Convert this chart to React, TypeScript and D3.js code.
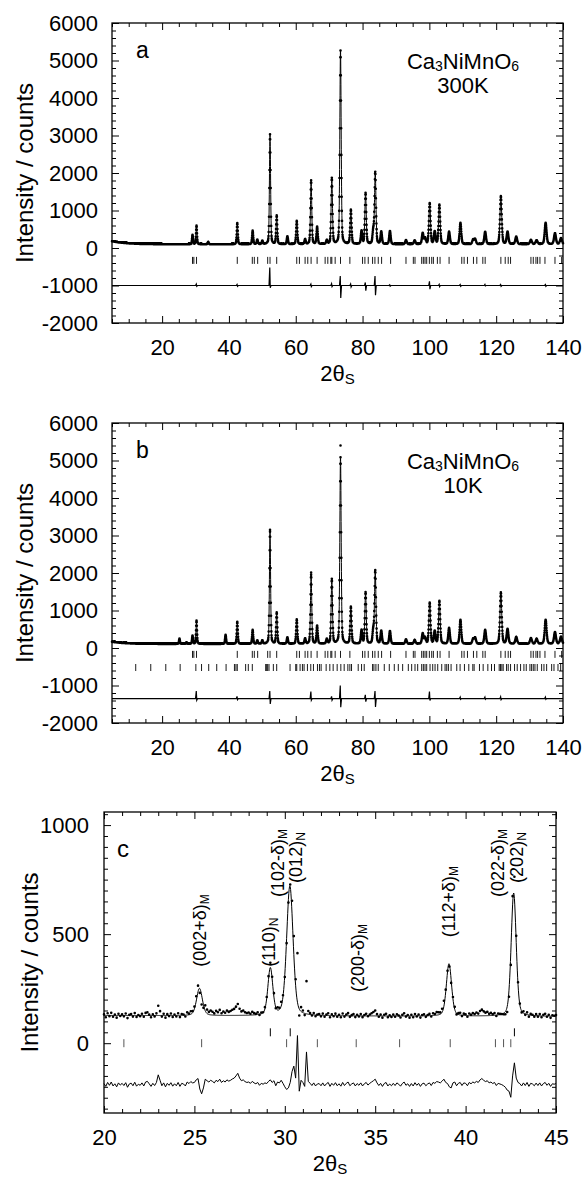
import React, { useEffect, useMemo, useRef } from "react";
import * as d3 from "d3";

const FONT = "'Liberation Sans', Arial, Helvetica, sans-serif";

// ---------------- data ----------------
// axis ticks
const abXMajor = [20, 40, 60, 80, 100, 120, 140];
const abYMajor = [-2000, -1000, 0, 1000, 2000, 3000, 4000, 5000, 6000];
const cXMajor = [20, 25, 30, 35, 40, 45];
const cYMajor = [0, 500, 1000];

// background level [2θ, counts]
const bgA: [number, number][] = [[5, 180], [7, 150], [10, 125], [14, 108], [22, 100], [140, 100]];
const bgB: [number, number][] = [[5, 165], [8, 135], [12, 118], [20, 110], [140, 108]];
const bgC: [number, number][] = [[20, 127], [45, 123]];

// peaks [2θ, top counts]
const peaksA: [number, number][] = [
  [29.1, 350], [30.3, 600], [33.8, 160], [42.5, 665], [47.1, 460], [48.5, 220], [50.0, 190],
  [52.3, 3030], [54.3, 860], [57.5, 310], [60.3, 720], [62.8, 230], [64.6, 1800], [66.4, 560],
  [69.3, 200], [70.8, 1860], [73.4, 5260], [76.5, 1010], [79.7, 450], [80.9, 1460], [83.2, 440],
  [83.8, 2010], [85.6, 430], [88.2, 450], [93.0, 210], [95.6, 200], [98.0, 390], [98.7, 260],
  [100.1, 1190], [101.6, 430], [103.0, 1150], [105.9, 430], [109.3, 670], [113.1, 220], [113.7, 230],
  [116.7, 430], [121.4, 1380], [123.4, 430], [126.0, 300], [130.4, 210], [132.1, 200], [134.8, 670],
  [137.6, 390], [139.4, 260],
];
const peaksB: [number, number][] = [
  [25.2, 250], [27.3, 150], [29.1, 330], [30.3, 730], [39.0, 350], [42.5, 700], [47.1, 480],
  [48.5, 200], [50.0, 200], [52.3, 3100], [54.3, 940], [57.5, 280], [60.3, 760], [62.8, 250],
  [64.6, 1950], [66.4, 590], [69.3, 230], [70.8, 1830], [73.4, 5080], [76.5, 1090], [79.7, 470],
  [80.9, 1480], [83.2, 450], [83.8, 2050], [85.6, 450], [88.2, 450], [93.0, 230], [95.6, 210],
  [98.0, 380], [98.7, 270], [100.1, 1200], [101.6, 440], [103.0, 1250], [105.9, 530], [109.3, 750],
  [113.1, 240], [113.7, 270], [116.7, 480], [121.4, 1480], [123.4, 500], [126.0, 290], [130.4, 260],
  [132.1, 240], [134.8, 750], [137.6, 420], [139.4, 300],
];
const obsOutliersB: [number, number][] = [[52.3, 3150], [64.6, 2010], [73.4, 5400]];

// panel c peaks [2θ, height above background, fwhm]
const peaksC: [number, number, number][] = [
  [25.28, 125, 0.38], [29.2, 215, 0.32], [30.28, 595, 0.42], [39.08, 240, 0.34], [42.66, 565, 0.33],
];
// panel c obs - calc, 20.0 .. 45.0 step 0.1
const residC: number[] = [
  5, -8, 10, -3, 12, -6, 4, -10, 8, -2,
  6, -4, 9, -12, 3, 7, -5, 11, -7, 2,
  -3, 8, -6, 12, 15, 4, -8, 6, -4, 10,
  45, 20, -5, 8, -10, 6, -3, 9, -7, 4,
  -5, 10, -8, 6, 3, -6, 12, 5, 14, 8,
  10, 22, 28, -20, -42, -15, 25, 18, 12, 20,
  15, 8, 20, 14, 25, 10, 18, 12, 22, 16,
  20, 26, 30, 40, 52, 30, 18, 22, 14, 10,
  12, 6, 15, 8, 4, 10, -3, 6, 2, 8,
  5, 15, 22, 10, 18, -5, 12, 8, 20, 6,
  -10, -22, -15, 10, 60, 85, 30, 225, -30, 20,
  10, -8, 150, 15, 6, -4, 8, -6, 3, 5,
  -5, 8, -6, 4, 10, -8, 6, -3, 9, -5,
  4, -7, 10, -4, 6, 12, -5, 3, 8, -6,
  5, -3, 8, -6, 4, 10, -2, 6, 12, 18,
  25, 8, -4, 6, -8, 5, 10, -6, 3, -5,
  6, -4, 8, 2, -7, 5, 12, -3, 4, -8,
  5, -6, 9, -3, 6, -8, 4, 7, -5, 3,
  8, -4, 10, 6, 14, 12, 8, 16, 25, 10,
  5, -10, -15, 8, 12, -5, 6, 10, -4, 8,
  6, -5, 10, 4, 12, 8, 15, 10, 22, 28,
  20, 14, 18, 8, 12, 5, 10, -4, 6, 3,
  0, -5, -12, -25, -30, -58, 40, 100, 30, 10,
  5, -6, 8, -4, 10, -8, 6, 3, -5, 7,
  -4, 8, -6, 5, 10, -3, 6, -8, 4, 2,
  5,
];
const residCStart = 20;
const residCStep = 0.1;

// difference curve events [2θ, up, down]
const diffA: [number, number, number][] = [
  [30.3, 40, 20], [42.5, 30, 20], [52.3, 480, 60], [64.6, 40, 30], [70.8, 50, 30], [73.4, 250, 330],
  [76.5, 40, 40], [80.9, 80, 140], [83.8, 250, 260], [88.2, 20, 20], [100.1, 110, 100], [103.0, 30, 30],
  [109.3, 25, 20], [116.7, 30, 10], [121.4, 25, 20], [134.8, 25, 20],
];
const diffB: [number, number, number][] = [
  [30.3, 200, 40], [42.5, 60, 30], [52.3, 200, 140], [64.6, 190, 40], [70.8, 60, 40], [73.4, 350, 230],
  [80.9, 100, 80], [83.8, 200, 220], [100.1, 190, 50], [109.3, 40, 20], [116.7, 40, 20], [121.4, 50, 30],
  [134.8, 40, 20],
];
const diffOffsetA = -1000;
const diffOffsetB = -1350;
const diffOffsetC = -190;

// reflection markers
const nucTicks = [
  29.1, 29.5, 30.3, 42.5, 47.0, 47.6, 48.6, 51.6, 52.3, 54.3, 60.3, 61.1, 62.8, 63.6, 64.6, 66.4, 68.8,
  69.6, 70.5, 70.8, 71.8, 73.4, 76.2, 80.0, 80.7, 81.7, 83.0, 83.7, 84.7, 85.7, 88.4, 93.0, 95.2, 95.7,
  97.7, 98.2, 98.7, 99.2, 100.0, 100.7, 101.2, 102.4, 103.2, 105.9, 109.7, 110.4, 111.4, 113.2, 114.2,
  116.0, 116.7, 121.4, 122.7, 123.6, 124.3, 130.4, 131.1, 131.9, 132.4, 133.1, 134.6, 137.6, 139.6,
];
const magTicksB = [
  12.1, 16.6, 21.1, 25.4, 30.1, 31.8, 33.95, 36.35, 39.15, 41.65, 42.1, 42.5, 45.0, 45.8, 47.0, 51.0,
  51.3, 51.6, 52.0, 53.3, 54.3, 58.3, 60.0, 60.3, 61.3, 62.0, 62.5, 63.5, 64.5, 65.3, 66.5, 67.1, 67.6,
  69.1, 70.2, 71.2, 72.4, 73.5, 74.5, 75.6, 76.2, 76.7, 78.7, 79.7, 80.5, 83.0, 83.4, 84.0, 84.7, 86.5,
  88.0, 89.5, 90.7, 92.0, 93.7, 94.7, 95.7, 96.5, 97.7, 98.2, 98.7, 99.2, 100.2, 101.0, 101.7, 102.5,
  103.7, 104.7, 105.2, 105.7, 106.5, 108.2, 109.2, 110.5, 111.8, 113.0, 113.4, 115.0, 116.1, 117.5,
  118.6, 119.5, 120.9, 121.3, 121.7, 122.1, 123.1, 123.6, 124.3, 125.5, 126.3, 127.3, 128.3, 129.0,
  130.1, 130.6, 131.1, 131.6, 132.3, 133.6, 134.3, 135.1, 136.6, 137.3, 138.5, 139.3,
];
const nucTicksC = [29.2, 30.3, 42.7];
const magTicksC = [21.1, 25.4, 30.1, 31.8, 33.95, 36.35, 39.15, 41.65, 42.1, 42.5];
const tickRowA = -330;
const tickRowB1 = -170;
const tickRowB2 = -520;
const tickRowC1 = 50;
const tickRowC2 = 0;

// peak labels of panel c (anchored at the start of the vertical text)
const cLabels = [
  { x: 25.3, y: 350, main: "(002+δ)", sub: "M" },
  { x: 29.1, y: 350, main: "(110)", sub: "N" },
  { x: 29.65, y: 670, main: "(102-δ)", sub: "M" },
  { x: 30.6, y: 735, main: "(012)", sub: "N" },
  { x: 34.05, y: 235, main: "(200-δ)", sub: "M" },
  { x: 39.1, y: 486, main: "(112+δ)", sub: "M" },
  { x: 41.8, y: 670, main: "(022-δ)", sub: "M" },
  { x: 42.85, y: 735, main: "(202)", sub: "N" },
];

// ---------------- helpers ----------------
function bgAt(bg: [number, number][], x: number) {
  for (let i = 0; i < bg.length - 1; i++) {
    const [x0, y0] = bg[i];
    const [x1, y1] = bg[i + 1];
    if (x <= x1) return y0 + ((y1 - y0) * (x - x0)) / (x1 - x0);
  }
  return bg[bg.length - 1][1];
}
function pv(dx: number, fwhm: number) {
  const t = (2 * dx) / fwhm;
  return 0.3 / (1 + t * t) + 0.7 * Math.exp(-Math.LN2 * t * t);
}
function calcAB(x: number, peaks: [number, number][], bg: [number, number][]) {
  let y = bgAt(bg, x);
  for (const [p, top] of peaks) {
    if (Math.abs(x - p) > 8) continue;
    const w = 0.25 + 0.003 * p;
    y += (top - bgAt(bg, p)) * pv(x - p, w);
  }
  return y;
}
function calcC(x: number) {
  let y = bgAt(bgC, x);
  for (const [p, h, w] of peaksC) y += h * pv(x - p, w);
  return y;
}
function diffPts(events: [number, number, number][], off: number, x0: number, x1: number) {
  const pts: [number, number][] = [[x0, off]];
  for (const [p, up, dn] of events) {
    pts.push([p - 0.3, off], [p - 0.07, off + up], [p + 0.07, off - dn], [p + 0.3, off]);
  }
  pts.push([x1, off]);
  return pts;
}

type Scale = d3.ScaleLinear<number, number>;

function Axes(props: {
  x: Scale; y: Scale; xMajor: number[]; xMinor: number[]; yMajor: number[]; yMinor: number[];
  left: number; right: number; top: number; bottom: number; yPad: number;
}) {
  const ref = useRef<SVGGElement>(null);
  const { x, y, xMajor, xMinor, yMajor, yMinor, left, right, top, bottom, yPad } = props;
  useEffect(() => {
    const g = d3.select(ref.current);
    g.selectAll("*").remove();
    const fmt = (d: any) => String(d);
    const add = (axis: any, tr: string) => g.append("g").attr("transform", tr).call(axis);
    add(d3.axisBottom(x).tickValues(xMajor).tickSize(-7).tickPadding(16).tickFormat(fmt), `translate(0,${bottom})`);
    add(d3.axisBottom(x).tickValues(xMinor).tickSize(-4).tickFormat(() => ""), `translate(0,${bottom})`);
    add(d3.axisTop(x).tickValues(xMajor).tickSize(-7).tickFormat(() => ""), `translate(0,${top})`);
    add(d3.axisTop(x).tickValues(xMinor).tickSize(-4).tickFormat(() => ""), `translate(0,${top})`);
    add(d3.axisLeft(y).tickValues(yMajor).tickSize(-7).tickPadding(yPad).tickFormat(fmt), `translate(${left},0)`);
    add(d3.axisLeft(y).tickValues(yMinor).tickSize(-4).tickFormat(() => ""), `translate(${left},0)`);
    add(d3.axisRight(y).tickValues(yMajor).tickSize(-7).tickFormat(() => ""), `translate(${right},0)`);
    add(d3.axisRight(y).tickValues(yMinor).tickSize(-4).tickFormat(() => ""), `translate(${right},0)`);
    g.selectAll(".domain").remove();
    g.selectAll("line").attr("stroke", "#000").attr("stroke-width", 1);
    g.selectAll("text").attr("font-family", FONT).attr("font-size", 22).attr("fill", "#000");
  }, [x, y]);
  return (
    <g>
      <g ref={ref} />
      <rect x={left} y={top} width={right - left} height={bottom - top} fill="none" stroke="#000" strokeWidth={1.3} />
    </g>
  );
}

function dotPath(pts: [number, number][]) {
  return pts.map(([px, py]) => `M${px.toFixed(2)},${py.toFixed(2)}h0.01`).join("");
}

function XTitle({ cx, y }: { cx: number; y: number }) {
  return (
    <text x={cx} y={y} textAnchor="middle" fontFamily={FONT} fontSize={22}>
      2θ<tspan fontSize={15} dy={3}>S</tspan>
    </text>
  );
}
function YTitle({ x, cy }: { x: number; cy: number }) {
  return (
    <text transform={`translate(${x},${cy}) rotate(-90)`} textAnchor="middle" fontFamily={FONT} fontSize={24}>
      Intensity / counts
    </text>
  );
}
function Formula({ cx, y, temp }: { cx: number; y: number; temp: string }) {
  return (
    <g fontFamily={FONT} fontSize={22} textAnchor="middle">
      <text x={cx} y={y}>
        Ca<tspan fontSize={14} dy={2}>3</tspan><tspan dy={-2}>NiMnO</tspan><tspan fontSize={14} dy={2}>6</tspan>
      </text>
      <text x={cx} y={y + 24}>{temp}</text>
    </g>
  );
}

function WidePanel(props: {
  top: number; peaks: [number, number][]; bg: [number, number][]; diff: [number, number, number][];
  diffOff: number; rows: { v: number; ticks: number[] }[]; letter: string; temp: string;
  outliers?: [number, number][];
}) {
  const left = 112, right = 563, top = props.top, bottom = props.top + 300;
  const x = useMemo(() => d3.scaleLinear().domain([5, 140]).range([left, right]), []);
  const y = useMemo(() => d3.scaleLinear().domain([-2000, 6000]).range([bottom, top]), [top]);
  const calcPts = useMemo(() => d3.range(5, 140.001, 0.02).map((t) => [t, calcAB(t, props.peaks, props.bg)] as [number, number]), []);
  const obsPts = useMemo(() => d3.range(5, 140.001, 0.05).map((t) => [t, calcAB(t, props.peaks, props.bg)] as [number, number]), []);
  const line = d3.line<[number, number]>().x((d) => x(d[0])).y((d) => y(d[1]));
  const dpts = diffPts(props.diff, props.diffOff, 5, 140);
  const xMinor = d3.range(5, 141, 5).filter((v) => v % 20 !== 0);
  const yMinor = d3.range(-2000, 6001, 200).filter((v) => v % 1000 !== 0);
  const obsAll = obsPts.concat(props.outliers || []);
  return (
    <g>
      <path d={line(calcPts) || ""} fill="none" stroke="#000" strokeWidth={1} />
      <path d={dotPath(obsAll.map((d) => [x(d[0]), y(d[1])]))} stroke="#000" strokeWidth={2.6} strokeLinecap="round" fill="none" />
      <path d={line(dpts) || ""} fill="none" stroke="#000" strokeWidth={1.2} />
      {props.rows.map((r, i) => (
        <g key={i}>
          {r.ticks.map((t, j) => (
            <line key={j} x1={x(t)} x2={x(t)} y1={y(r.v) - 3.5} y2={y(r.v) + 3.5} stroke="#000" strokeWidth={0.9} />
          ))}
        </g>
      ))}
      <Axes x={x} y={y} xMajor={abXMajor} xMinor={xMinor} yMajor={abYMajor} yMinor={yMinor}
        left={left} right={right} top={top} bottom={bottom} yPad={14} />
      <text x={136} y={top + 35} fontFamily={FONT} fontSize={23}>{props.letter}</text>
      <Formula cx={463} y={top + 46} temp={props.temp} />
      <YTitle x={33} cy={(top + bottom) / 2} />
      <XTitle cx={(left + right) / 2} y={bottom + 58} />
    </g>
  );
}

function PanelC() {
  const left = 104, right = 556, top = 812, bottom = 1113;
  const x = useMemo(() => d3.scaleLinear().domain([20, 45]).range([left, right]), []);
  const y = useMemo(() => d3.scaleLinear().domain([-320, 1060]).range([bottom, top]), []);
  const line = d3.line<[number, number]>().x((d) => x(d[0])).y((d) => y(d[1]));
  const calcPts = d3.range(20, 45.001, 0.02).map((t) => [t, calcC(t)] as [number, number]);
  const obsPts = residC.map((r, i) => {
    const t = residCStart + i * residCStep;
    return [t, calcC(t) + r] as [number, number];
  });
  const diffLine = residC.map((r, i) => [residCStart + i * residCStep, diffOffsetC + r] as [number, number]);
  const xMinor = d3.range(20, 46, 1).filter((v) => v % 5 !== 0);
  const yMinor = d3.range(-300, 1051, 50).filter((v) => v % 500 !== 0);
  return (
    <g>
      <path d={line(calcPts) || ""} fill="none" stroke="#000" strokeWidth={1} />
      <path d={dotPath(obsPts.map((d) => [x(d[0]), y(d[1])]))} stroke="#000" strokeWidth={2.6} strokeLinecap="round" fill="none" />
      <path d={line(diffLine) || ""} fill="none" stroke="#000" strokeWidth={1} />
      {nucTicksC.map((t, j) => (
        <line key={"n" + j} x1={x(t)} x2={x(t)} y1={y(tickRowC1) - 4} y2={y(tickRowC1) + 4} stroke="#000" strokeWidth={1} />
      ))}
      {magTicksC.map((t, j) => (
        <line key={"m" + j} x1={x(t)} x2={x(t)} y1={y(tickRowC2) - 4} y2={y(tickRowC2) + 4} stroke="#555" strokeWidth={1} />
      ))}
      {cLabels.map((l, i) => (
        <text key={i} transform={`translate(${x(l.x) + 6},${y(l.y)}) rotate(-90)`} fontFamily={FONT} fontSize={18}>
          {l.main}<tspan fontSize={12} dy={3}>{l.sub}</tspan>
        </text>
      ))}
      <Axes x={x} y={y} xMajor={cXMajor} xMinor={xMinor} yMajor={cYMajor} yMinor={yMinor}
        left={left} right={right} top={top} bottom={bottom} yPad={15} />
      <text x={117} y={857} fontFamily={FONT} fontSize={24}>c</text>
      <YTitle x={38} cy={(top + bottom) / 2} />
      <XTitle cx={(left + right) / 2} y={bottom + 58} />
    </g>
  );
}

export default function App() {
  return (
    <svg width={583} height={1179} style={{ position: "absolute", left: 0, top: 0, display: "block", background: "#fff" }}>
      <rect width={583} height={1179} fill="#fff" />
      <WidePanel top={23} peaks={peaksA} bg={bgA} diff={diffA} diffOff={diffOffsetA}
        rows={[{ v: tickRowA, ticks: nucTicks }]} letter="a" temp="300K" />
      <WidePanel top={423} peaks={peaksB} bg={bgB} diff={diffB} diffOff={diffOffsetB}
        rows={[{ v: tickRowB1, ticks: nucTicks }, { v: tickRowB2, ticks: magTicksB }]} letter="b" temp="10K"
        outliers={obsOutliersB} />
      <PanelC />
    </svg>
  );
}
